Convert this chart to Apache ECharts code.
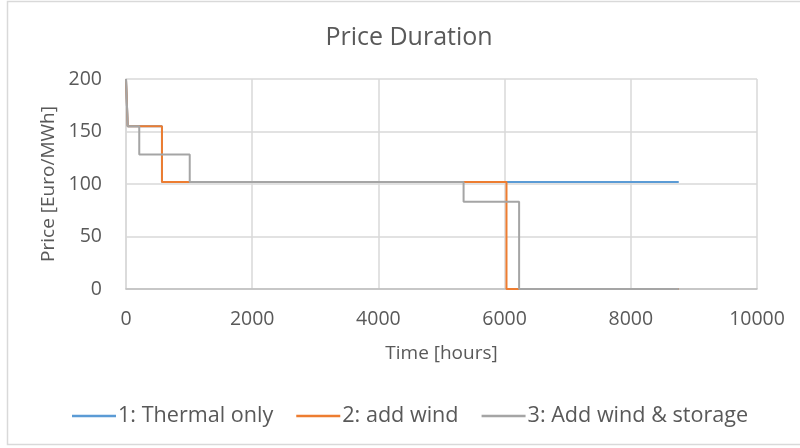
<!DOCTYPE html>
<html>
<head>
<meta charset="utf-8">
<script src="https://cdn.jsdelivr.net/npm/echarts@6/dist/echarts.min.js"></script>
<style>
  html, body { margin: 0; padding: 0; background: #fff; }
  #chart { width: 800px; height: 448px; }
</style>
</head>
<body>
<div id="chart"></div>
<script>
// Price duration curves: each step starts at the given hour and holds its price
// until the next hour in the list.
const seriesNames = ['1: Thermal only', '2: add wind', '3: Add wind & storage'];

const thermalHours  = [0, 27, 570, 8760];
const thermalPrices = [200, 155, 102, 102];

const windHours  = [0, 27, 570, 6030, 8760];
const windPrices = [200, 155, 102, 0, 0];

const storageHours  = [0, 27, 210, 1010, 5350, 6230, 8760];
const storagePrices = [200, 155, 128, 102, 83, 0, 0];

const xTicks = [0, 2000, 4000, 6000, 8000, 10000];
const yTicks = [0, 50, 100, 150, 200];

const colors = ['#5B9BD5', '#ED7D31', '#A5A5A5'];
const FONT = 'Open Sans';
const TEXT = '#595959';

function pairs(hours, prices) {
  return hours.map((h, i) => [h, prices[i]]);
}

const chart = echarts.init(document.getElementById('chart'), null, { renderer: 'canvas' });

const stepSeries = [
  pairs(thermalHours, thermalPrices),
  pairs(windHours, windPrices),
  pairs(storageHours, storagePrices)
].map((data, i) => ({
  name: seriesNames[i],
  type: 'line',
  step: 'end',
  data: data,
  showSymbol: false,
  symbol: 'none',
  lineStyle: { color: colors[i], width: 2 },
  itemStyle: { color: colors[i] },
  z: 2 + i,
  animation: false
}));

chart.setOption({
  animation: false,
  backgroundColor: '#ffffff',
  title: {
    text: 'Price Duration',
    left: 404,
    top: 20,
    textAlign: 'center',
    textStyle: { fontFamily: FONT, fontSize: 25, fontWeight: 'normal', color: TEXT }
  },
  graphic: [{
    type: 'rect',
    shape: { x: 7.5, y: 1.5, width: 800, height: 443 },
    style: { fill: 'none', stroke: '#D9D9D9', lineWidth: 1.5 },
    silent: true,
    z: -1
  }],
  legend: {
    top: 400,
    left: 67,
    icon: 'rect',
    itemWidth: 44,
    itemHeight: 2.5,
    itemGap: 23,
    textStyle: { fontFamily: FONT, fontSize: 21.6, color: TEXT, padding: [0, 0, 0, -3] },
    data: seriesNames
  },
  grid: { left: 126, right: 43, top: 79, bottom: 159, containLabel: false },
  xAxis: {
    type: 'value',
    min: xTicks[0],
    max: xTicks[xTicks.length - 1],
    interval: 2000,
    name: 'Time [hours]',
    nameLocation: 'middle',
    nameGap: 55,
    nameTextStyle: { fontFamily: FONT, fontSize: 19, color: TEXT },
    axisLine: { show: true, lineStyle: { color: '#BFBFBF', width: 1.5 } },
    axisTick: { show: false },
    axisLabel: { fontFamily: FONT, fontSize: 19.5, color: TEXT, margin: 20, formatter: v => String(v) },
    splitLine: { show: true, lineStyle: { color: '#D9D9D9', width: 1.5 } }
  },
  yAxis: {
    type: 'value',
    min: yTicks[0],
    max: yTicks[yTicks.length - 1],
    interval: 50,
    name: 'Price [Euro/MWh]',
    nameLocation: 'middle',
    nameGap: 66,
    nameTextStyle: { fontFamily: FONT, fontSize: 19, color: TEXT },
    axisLine: { show: true, lineStyle: { color: '#D9D9D9', width: 1.5 } },
    axisTick: { show: false },
    axisLabel: { fontFamily: FONT, fontSize: 19.5, color: TEXT, margin: 24, formatter: v => String(v) },
    splitLine: { show: true, lineStyle: { color: '#D9D9D9', width: 1.5 } }
  },
  series: stepSeries
});
</script>
</body>
</html>
